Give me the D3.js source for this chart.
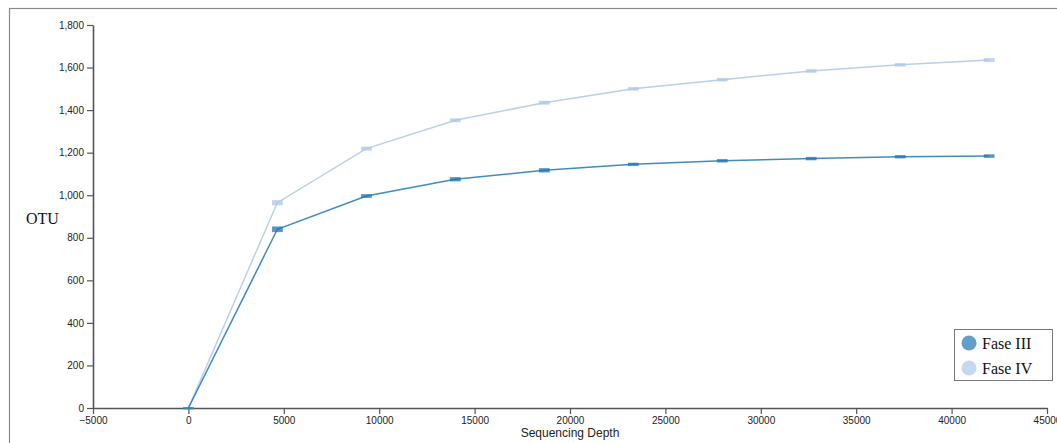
<!DOCTYPE html>
<html>
<head>
<meta charset="utf-8">
<script src="https://cdn.jsdelivr.net/npm/d3@7"></script>
<style>
  html, body { margin: 0; padding: 0; background: #fff; }
  svg { display: block; }
  .tick text { font-family: "Liberation Sans", Arial, sans-serif; font-size: 10px; fill: #222; }
</style>
</head>
<body>
<svg id="chart" width="1057" height="443"></svg>
<script>
// Rarefaction data: mean observed OTUs per sequencing depth, with standard deviation
const depths = [0, 4663, 9326, 13989, 18652, 23315, 27978, 32641, 37304, 41967];
const seriesNames = ["Fase III", "Fase IV"];
const faseIII = [0, 840, 996, 1075, 1117, 1145, 1162, 1172, 1181, 1184];
const faseIV  = [0, 965, 1219, 1352, 1435, 1500, 1543, 1584, 1613, 1635];
const faseIIIsd = [0, 9, 5, 6, 6, 4, 4, 4, 4, 4];
const faseIVsd  = [0, 8, 5, 5, 5, 4, 4, 4, 4, 5];
const xTicks = [-5000, 0, 5000, 10000, 15000, 20000, 25000, 30000, 35000, 40000, 45000];
const yTicks = [0, 200, 400, 600, 800, 1000, 1200, 1400, 1600, 1800];
const colors = ["#1f77b4", "#aec7e8"];

const svg = d3.select("#chart");
const W = 1057, H = 443;
const margin = { left: 93, right: 10, top: 25, bottom: 35 };

// outer frame
svg.append("rect")
  .attr("x", 9.5).attr("y", 8.5)
  .attr("width", W + 20).attr("height", H + 20)
  .attr("fill", "none").attr("stroke", "#8a8a8a").attr("stroke-width", 1.2);

const x = d3.scaleLinear().domain([-5000, 45000]).range([margin.left, W - margin.right]);
const y = d3.scaleLinear().domain([0, 1800]).range([H - margin.bottom, margin.top]);

const xAxis = svg.append("g")
  .attr("transform", `translate(0,${y(0)})`)
  .call(d3.axisBottom(x).tickValues(xTicks).tickFormat(d3.format("d")).tickSizeOuter(0));
const yAxis = svg.append("g")
  .attr("transform", `translate(${x(-5000)},0)`)
  .call(d3.axisLeft(y).tickValues(yTicks).tickFormat(d3.format(",")).tickSizeOuter(0));

[xAxis, yAxis].forEach(g => {
  g.select(".domain").attr("stroke", "#555").attr("stroke-width", 1.6);
  g.selectAll(".tick line").attr("stroke", "#555").attr("stroke-width", 1.2);
});

// axis titles
svg.append("text")
  .attr("x", (x(-5000) + x(45000)) / 2).attr("y", 437)
  .attr("text-anchor", "middle")
  .attr("font-family", "Liberation Sans, Arial, sans-serif")
  .attr("font-size", 12).attr("fill", "#222")
  .text("Sequencing Depth");
svg.append("text")
  .attr("x", 26).attr("y", 224)
  .attr("font-family", "Liberation Serif, Times New Roman, serif")
  .attr("font-size", 16).attr("fill", "#111")
  .text("OTU");

const series = [
  { name: seriesNames[0], values: faseIII, sd: faseIIIsd, color: colors[0] },
  { name: seriesNames[1], values: faseIV, sd: faseIVsd, color: colors[1] }
];

const line = d3.line()
  .x((d, i) => x(depths[i]))
  .y(d => y(d));

// draw the lighter series first so the darker one sits on top
series.slice().reverse().forEach(s => {
  const g = svg.append("g");
  g.append("path")
    .datum(s.values)
    .attr("fill", "none")
    .attr("stroke", s.color)
    .attr("stroke-opacity", 0.85)
    .attr("stroke-width", 1.5)
    .attr("d", line);

  // error bars as small boxes spanning mean ± sd
  g.selectAll("rect.err")
    .data(s.values)
    .join("rect")
    .attr("class", "err")
    .attr("x", (d, i) => x(depths[i]) - 5)
    .attr("y", (d, i) => y(d + s.sd[i]) - 0.5)
    .attr("width", 10)
    .attr("height", (d, i) => Math.max(1.5, y(d - s.sd[i]) - y(d + s.sd[i]) + 1))
    .attr("fill", s.color)
    .attr("fill-opacity", 0.75)
    .attr("stroke", s.color)
    .attr("stroke-opacity", 0.6)
    .attr("stroke-width", 0.8);
});

// legend
const lg = svg.append("g");
lg.append("rect")
  .attr("x", 954.5).attr("y", 329.5)
  .attr("width", 98).attr("height", 51)
  .attr("fill", "#fff").attr("stroke", "#777").attr("stroke-width", 1);
series.forEach((s, i) => {
  lg.append("circle")
    .attr("cx", 969).attr("cy", 343 + i * 25)
    .attr("r", 7.5)
    .attr("fill", s.color).attr("fill-opacity", 0.7);
  lg.append("text")
    .attr("x", 982).attr("y", 349 + i * 25)
    .attr("font-family", "Liberation Serif, Times New Roman, serif")
    .attr("font-size", 16).attr("fill", "#111")
    .text(s.name);
});
</script>
</body>
</html>
